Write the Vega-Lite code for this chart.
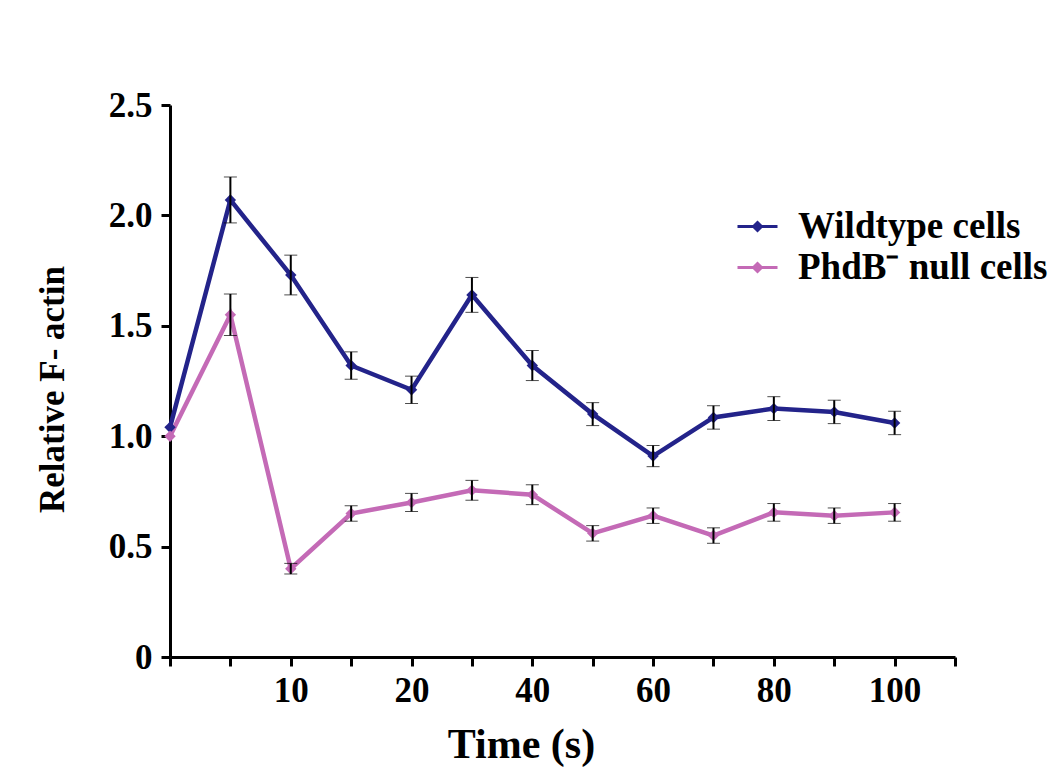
{
  "$schema": "https://vega.github.io/schema/vega-lite/v6.json",
  "autosize": {"type": "none"},
  "width": 785,
  "height": 552,
  "padding": {"left": 170, "top": 105, "right": 102, "bottom": 117},
  "background": "white",
  "config": {
    "view": {"stroke": null},
    "font": "Liberation Serif",
    "axis": {
      "grid": false,
      "domainColor": "black",
      "domainWidth": 3,
      "tickColor": "black",
      "tickWidth": 3,
      "tickSize": 9,
      "labelFont": "Liberation Serif",
      "labelFontWeight": "bold",
      "labelFontSize": 35,
      "labelColor": "black",
      "titleFont": "Liberation Serif",
      "titleFontWeight": "bold",
      "titleColor": "black"
    }
  },
  "data": {
    "values": [
      {"time": "0", "series": "Wildtype cells", "value": 1.04, "err": null},
      {"time": "5", "series": "Wildtype cells", "value": 2.07, "err": 0.104},
      {"time": "10", "series": "Wildtype cells", "value": 1.73, "err": 0.09},
      {"time": "15", "series": "Wildtype cells", "value": 1.32, "err": 0.062},
      {"time": "20", "series": "Wildtype cells", "value": 1.21, "err": 0.062},
      {"time": "30", "series": "Wildtype cells", "value": 1.64, "err": 0.079},
      {"time": "40", "series": "Wildtype cells", "value": 1.32, "err": 0.068},
      {"time": "50", "series": "Wildtype cells", "value": 1.1, "err": 0.052},
      {"time": "60", "series": "Wildtype cells", "value": 0.91, "err": 0.048},
      {"time": "70", "series": "Wildtype cells", "value": 1.085, "err": 0.053},
      {"time": "80", "series": "Wildtype cells", "value": 1.125, "err": 0.054},
      {"time": "90", "series": "Wildtype cells", "value": 1.11, "err": 0.053},
      {"time": "100", "series": "Wildtype cells", "value": 1.06, "err": 0.053},
      {"time": "0", "series": "PhdB⁻ null cells", "value": 1.0, "err": null},
      {"time": "5", "series": "PhdB⁻ null cells", "value": 1.55, "err": 0.094},
      {"time": "10", "series": "PhdB⁻ null cells", "value": 0.4, "err": 0.024},
      {"time": "15", "series": "PhdB⁻ null cells", "value": 0.65, "err": 0.035},
      {"time": "20", "series": "PhdB⁻ null cells", "value": 0.7, "err": 0.041},
      {"time": "30", "series": "PhdB⁻ null cells", "value": 0.755, "err": 0.045},
      {"time": "40", "series": "PhdB⁻ null cells", "value": 0.735, "err": 0.045},
      {"time": "50", "series": "PhdB⁻ null cells", "value": 0.56, "err": 0.035},
      {"time": "60", "series": "PhdB⁻ null cells", "value": 0.64, "err": 0.035},
      {"time": "70", "series": "PhdB⁻ null cells", "value": 0.55, "err": 0.035},
      {"time": "80", "series": "PhdB⁻ null cells", "value": 0.655, "err": 0.04},
      {"time": "90", "series": "PhdB⁻ null cells", "value": 0.64, "err": 0.035},
      {"time": "100", "series": "PhdB⁻ null cells", "value": 0.655, "err": 0.04}
    ]
  },
  "layer": [
    {
      "mark": {"type": "line", "strokeWidth": 4.5, "point": {"shape": "diamond", "size": 130, "filled": true}},
      "encoding": {
        "x": {
          "field": "time",
          "type": "ordinal",
          "sort": null,
          "scale": {"type": "point", "padding": 0, "domain": ["0", "5", "10", "15", "20", "30", "40", "50", "60", "70", "80", "90", "100", "end"]},
          "axis": {
            "labelAngle": 0,
            "labelPadding": 7,
            "labelExpr": "indexof(['10','20','40','60','80','100'], datum.value) >= 0 ? datum.value : ''",
            "title": "Time (s)",
            "titleFontSize": 42,
            "titleX": 351,
            "titleY": 100,
            "titleAlign": "center",
            "titleBaseline": "alphabetic"
          }
        },
        "y": {
          "field": "value",
          "type": "quantitative",
          "title": "Relative F- actin",
          "scale": {"domain": [0, 2.5], "nice": false, "zero": true},
          "axis": {
            "values": [0, 0.5, 1, 1.5, 2, 2.5],
            "labelExpr": "datum.value == 0 ? '0' : format(datum.value, '.1f')",
            "labelPadding": 9,
            "title": "Relative F- actin",
            "titleFontSize": 35,
            "titleX": -118,
            "titleY": 284,
            "titleAngle": -90,
            "titleAlign": "center",
            "titleBaseline": "middle"
          }
        },
        "color": {
          "field": "series",
          "type": "nominal",
          "scale": {"domain": ["Wildtype cells", "PhdB⁻ null cells"], "range": ["#23238a", "#c46ab6"]},
          "legend": {
            "orient": "none",
            "legendX": 566,
            "legendY": 100,
            "title": null,
            "padding": 0,
            "symbolType": "M-1,0L1,0M-0.2,0L0,-0.2L0.2,0L0,0.2Z",
            "symbolSize": 1600,
            "symbolStrokeWidth": 3,
            "labelFont": "Liberation Serif",
            "labelFontWeight": "bold",
            "labelFontSize": 37,
            "labelColor": "black",
            "labelOffset": 19,
            "rowPadding": 1,
            "labelLimit": 400,
            "encode": {"symbols": {"update": {"fill": {"scale": "color", "field": "value"}}}}
          }
        }
      }
    },
    {
      "transform": [{"filter": "datum.err != null"}],
      "mark": {
        "type": "errorbar",
        "color": "black",
        "ticks": {"size": 13, "strokeWidth": 2, "color": "black"},
        "rule": {"strokeWidth": 2, "color": "black"}
      },
      "encoding": {
        "x": {"field": "time", "type": "ordinal", "sort": null},
        "y": {"field": "value", "type": "quantitative", "title": "Relative F- actin"},
        "yError": {"field": "err"}
      }
    }
  ]
}
